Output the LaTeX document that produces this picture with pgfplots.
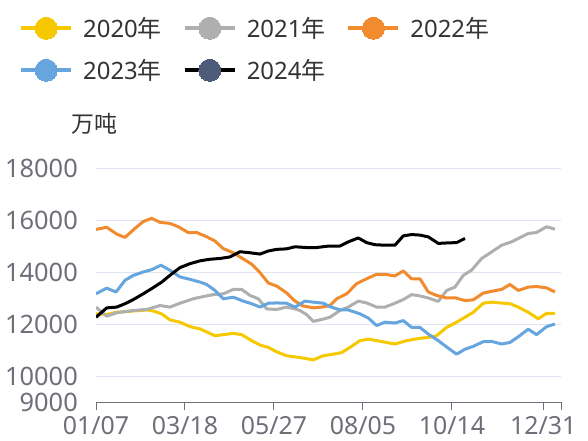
\documentclass[border=0pt]{standalone}
\usepackage{fontspec}
\setmainfont{Noto Sans}
\newfontfamily\cjk{Noto Sans CJK SC}
\usepackage{pgfplots}
\pgfplotsset{compat=1.18}
\definecolor{c20}{HTML}{F5C800}
\definecolor{c21}{HTML}{AFAFAF}
\definecolor{c22}{HTML}{F28B2E}
\definecolor{c23}{HTML}{66A5DE}
\definecolor{c24m}{HTML}{4B5B78}
\definecolor{gridc}{HTML}{E0E6F1}
\definecolor{axc}{HTML}{6E7079}
\definecolor{txt}{HTML}{333333}
\begin{document}
\begin{tikzpicture}
\useasboundingbox (0,0) rectangle (588bp,441bp);
\begin{axis}[
  at={(96bp,39bp)}, anchor=south west, scale only axis,
  width=465bp, height=234bp,
  xmin=0, xmax=52.25, ymin=9000, ymax=18000,
  axis x line*=bottom, axis y line*=left,
  y axis line style={draw=none},
  x axis line style={draw=axc, line width=1bp},
  xtick={0,10,20,30,40,50.26,52.25},
  xticklabels={01/07,03/18,05/27,08/05,10/14,12/31,{}},
  ytick={9000,10000,12000,14000,16000,18000},
  scaled y ticks=false,
  tick align=outside,
  major tick length=8bp,
  xtick style={draw=axc, line width=1bp},
  ytick style={draw=none},
  ymajorgrids, grid style={gridc, line width=1bp},
  /pgf/number format/.cd, set thousands separator={}, assume math mode=true, /pgfplots/.cd,
  ticklabel style={font=\fontsize{25.5}{30}\selectfont, text=axc, inner sep=0pt},
  yticklabel style={anchor=east, xshift=-10bp},
  xticklabel style={anchor=north, yshift=-6bp, font=\fontsize{25}{30}\selectfont},
  ylabel={\cjk 万吨},
  ylabel style={rotate=-90, at={(axis description cs:-0.004,1.19)}, anchor=center, font=\fontsize{23}{26}\selectfont, text=txt, inner sep=0pt},
  legend columns=3,
  legend cell align=left,
  legend image code/.code={
    \draw[#1, line width=4bp] (0bp,0bp) -- (50bp,0bp);
    \draw[#1, mark=*, mark size=11bp, line width=0pt] plot coordinates {(25bp,0bp)};
  },
  legend style={at={(axis description cs:-0.1656,1.645)}, anchor=north west, draw=none, fill=none,
    font=\fontsize{24}{28}\selectfont, text=txt, inner sep=0pt, row sep=20bp,
    /tikz/every odd column/.append style={column sep=10bp},
    /tikz/every even column/.append style={column sep=21bp},
    nodes={inner sep=0pt}},
  every axis plot/.append style={line width=3bp, line join=round, mark=none},
]
\addplot[c20, mark options={draw=c20, fill=c20}] coordinates {
(0,12390) (1.2,12370) (2.32,12450) (4.2,12500) (5.7,12540) (6.44,12500) (7.38,12390) (8.3,12160) (9.44,12070) (10.56,11900) (11.7,11810) (13.37,11550) (14.3,11590) (15.43,11640) (16.37,11590) (17.49,11360) (18.43,11190) (19.37,11100) (20.3,10930) (21.4,10780) (22.9,10710)
(24.42,10620) (25.54,10780) (26.66,10840) (27.6,10900) (28.54,11100) (29.66,11360) (30.6,11420) (31.53,11360) (33.59,11230) (34.9,11360) (36.4,11450) (37.52,11490) (38.27,11550) (39.4,11870) (40.52,12070) (41.46,12260) (42.39,12450) (43.52,12800) (44.45,12840) (45.39,12810) (46.51,12780) (47.45,12650) (48.57,12450) (49.7,12200) (50.63,12410) (51.57,12410)
};
\addlegendentry{2020{\cjk 年}}
\addplot[c21, mark options={draw=c21, fill=c21}] coordinates {
(0,12650) (1.2,12300) (2.32,12430) (4.2,12520) (5.7,12560) (7.19,12710) (8.3,12650) (9.44,12800) (10.94,12970) (11.7,13030) (13.18,13130) (14.3,13160) (15.43,13330) (16.37,13330) (17.3,13100) (18.24,12970) (19.18,12580) (20.3,12560) (21.4,12650) (22.36,12580)
(22.92,12520) (23.67,12360) (24.42,12100) (25.54,12190) (26.29,12260) (27.41,12520) (28.35,12650) (29.47,12880) (30.41,12810) (31.53,12650) (32.47,12650) (33.59,12800) (34.53,12940) (35.46,13130) (36.4,13080) (37.34,13000) (38.46,12870) (39.4,13290) (40.33,13420) (41.27,13870) (42.2,14070) (43.33,14520) (44.45,14770) (45.58,15030) (46.7,15160) (47.64,15320) (48.57,15480) (49.51,15520) (50.63,15740) (51.57,15650)
};
\addlegendentry{2021{\cjk 年}}
\addplot[c22, mark options={draw=c22, fill=c22}] coordinates {
(0,15640) (1.2,15720) (2.32,15460) (3.26,15330) (4.39,15680) (5.3,15940) (6.25,16065) (7.19,15910) (8.3,15870) (9.25,15740) (10.4,15510) (11.3,15520) (12.44,15355) (13.37,15190) (14.3,14900) (15.43,14740) (16.18,14580) (17.49,14300) (18.43,13975) (19.37,13575) (20.3,13460) (21.4,13200) (22.3,12900) (23.2,12700)
(24.42,12620) (25.35,12650) (26.29,12710) (27.04,12970) (28.16,13160) (29.28,13550) (30.41,13740) (31.53,13910) (32.47,13910) (33.59,13850) (34.53,14040) (35.46,13740) (36.4,13740) (37.34,13230) (38.27,13100) (39.4,13000) (40.33,13010) (41.46,12900) (42.39,12930) (43.52,13190) (44.64,13270) (45.58,13330) (46.51,13520) (47.45,13290) (48.57,13420) (49.51,13440) (50.63,13390) (51.57,13230)
};
\addlegendentry{2022{\cjk 年}}
\addplot[c23, mark options={draw=c23, fill=c23}] coordinates {
(0,13160) (1.2,13380) (2.25,13230) (3.26,13680) (4.2,13870) (5.3,14000) (6.25,14090) (7.3,14260) (8.3,14070) (9.44,13810) (10.56,13720) (11.7,13610) (12.44,13520) (13.37,13290) (14.3,12970) (15.43,13030) (16.55,12880) (17.49,12780) (18.43,12650) (19.37,12800) (20.3,12810) (21.4,12800) (22.36,12650)
(23.48,12880) (24.42,12840) (25.54,12800) (26.29,12670) (27.41,12540) (28.35,12540) (29.66,12390) (30.6,12230) (31.53,11940) (32.47,12070) (33.59,12040) (34.53,12130) (35.46,11870) (36.4,11870) (37.34,11610) (38.46,11360) (39.58,11070) (40.52,10840) (41.46,11030) (42.39,11140) (43.52,11320) (44.45,11330) (45.58,11230) (46.51,11290) (47.45,11510) (48.57,11800) (49.51,11590) (50.63,11900) (51.57,12000)
};
\addlegendentry{2023{\cjk 年}}
\addplot[black, mark options={draw=c24m, fill=c24m}] coordinates {
(0,12260) (1.2,12620) (2.32,12650) (3.26,12780) (4.2,12940) (5.3,13160) (6.25,13360) (7.38,13610) (8.3,13870) (9.44,14170) (10.56,14320) (11.7,14430) (12.8,14490) (13.93,14520) (15.06,14580) (16.18,14780) (17.3,14740) (18.43,14690) (19.37,14810) (20.3,14870) (21.4,14890) (22.36,14970)
(23.67,14940) (24.79,14940) (25.91,14990) (27.41,15000) (28.35,15160) (29.47,15310) (30.41,15130) (31.34,15050) (32.47,15030) (33.59,15030) (34.53,15390) (35.46,15440) (36.4,15420) (37.34,15350) (38.46,15100) (39.58,15120) (40.52,15130) (41.46,15290)
};
\addlegendentry{2024{\cjk 年}}
\end{axis}
\end{tikzpicture}
\end{document}
